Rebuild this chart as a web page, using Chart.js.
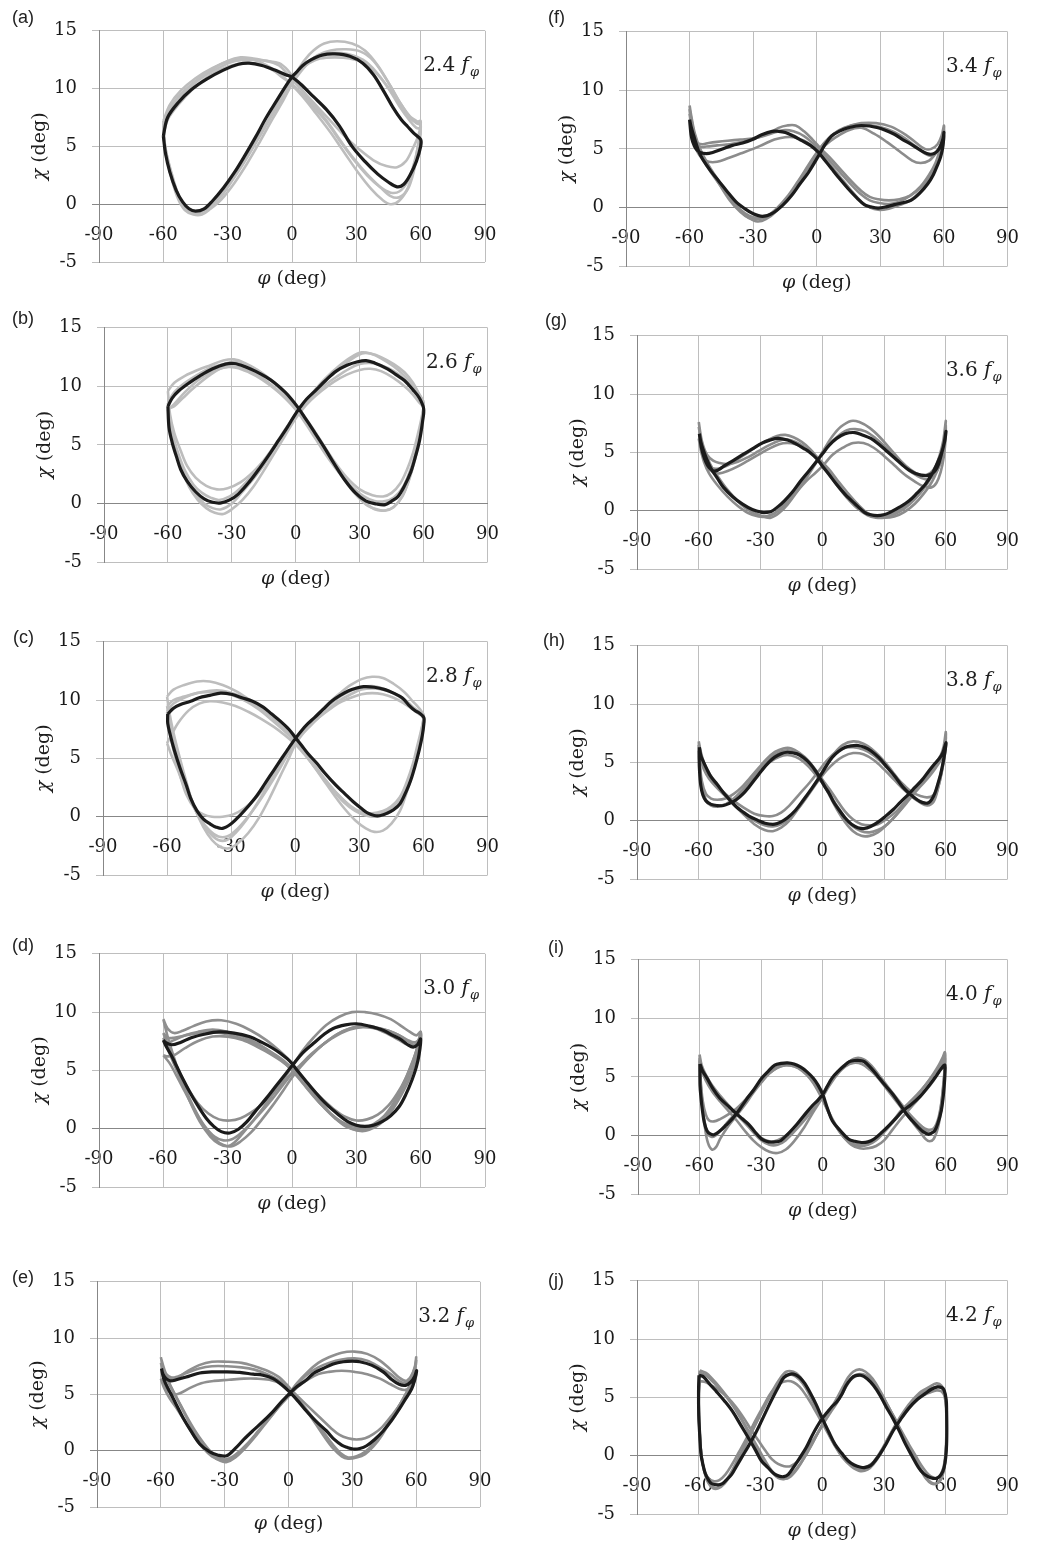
<!DOCTYPE html>
<html>
<head>
<meta charset="utf-8">
<script src="https://cdn.jsdelivr.net/npm/chart.js@4.4.1/dist/chart.umd.min.js"></script>
<style>
  body { margin: 0; background: #fff; }
  #page { position: relative; width: 1039px; height: 1546px; overflow: hidden; }
  #page canvas { position: absolute; }
  .tag { position: absolute; font: 18px "Liberation Sans", Arial, sans-serif; line-height: 18px; color: #222; }
</style>
</head>
<body>
<div id="page"></div>
<script>
// each curve: flat list x0,y0,x1,y1,... (phi deg, chi deg), one closed loop

// (a) 2.4 f
const aBlack = [-60,5.9, -58,7.5, -53,8.8, -47,9.9, -40,10.8, -32,11.6, -25,12.1, -20,12.2, -14,12.0, -8,11.6, -3,11.2, 0,11.0, 4,10.4, 10,9.3, 16,8.2, 22,6.8, 28,5.0, 34,3.7, 40,2.6, 45,1.9, 49,1.5, 52,1.7, 55,2.5, 58,3.7, 60,5.0, 60,5.6,
  57,6.1, 54,6.7, 51,7.3, 47,8.4, 43,9.7, 38,11.2, 33,12.2, 27,12.8, 20,13.0, 14,12.9, 9,12.5, 5,12.0, 2,11.4, 0,11.0, -3,10.2, -7,9.0, -12,7.5, -17,5.8, -22,4.2, -27,2.7, -32,1.4, -37,0.3, -41,-0.4, -45,-0.6, -48,-0.4, -51,0.2, -54,1.2, -57,2.8, -59,4.4, -60,5.9];
const aGrey1 = [-60,6.8, -58,8.0, -53,9.3, -46,10.5, -38,11.6, -30,12.4, -24,12.7, -18,12.6, -12,12.4, -6,12.2, -2,11.6, 1,10.8, 5,9.8, 11,8.4, 17,7.0, 23,5.4, 29,3.9, 35,2.6, 41,1.5, 46,0.7, 50,0.6, 54,1.3, 57,3.0, 59,5.0, 60,7.0,
  58,7.2, 55,7.6, 51,8.6, 46,10.2, 40,12.0, 34,13.3, 28,13.9, 21,14.1, 15,13.9, 10,13.3, 6,12.5, 2,11.4, -1,10.5, -5,9.2, -10,7.6, -16,5.6, -22,3.7, -28,2.0, -33,0.7, -38,-0.2, -42,-0.7, -46,-0.8, -50,-0.3, -53,0.8, -56,2.6, -59,4.8, -60,6.8];
const aGrey2 = [-60,6.3, -58,7.8, -53,9.0, -47,10.2, -40,11.2, -33,11.9, -26,12.4, -19,12.5, -12,12.4, -6,12.0, -1,11.0, 4,10.0, 10,8.8, 17,7.4, 24,6.0, 31,4.8, 38,3.8, 44,3.3, 49,3.2, 53,3.7, 56,4.7, 59,6.0, 60,7.2,
  58,7.1, 55,7.5, 51,8.4, 46,9.8, 40,11.2, 34,12.2, 27,12.6, 20,12.7, 13,12.6, 8,12.2, 4,11.6, 1,10.7, -3,9.6, -8,8.1, -14,6.2, -20,4.4, -26,2.7, -32,1.2, -37,0.1, -42,-0.5, -46,-0.6, -50,-0.2, -53,0.7, -56,2.3, -59,4.5, -60,6.3];
const aGrey3 = [-60,7.2, -57,8.6, -52,9.8, -45,10.9, -37,11.8, -29,12.4, -22,12.6, -15,12.3, -9,11.7, -4,11.0, 0,10.3, 5,9.3, 11,7.9, 18,6.2, 25,4.3, 31,2.7, 37,1.3, 42,0.4, 46,0.0, 50,0.3, 54,1.4, 57,3.3, 59,5.4, 60,6.8,
  58,7.0, 55,7.5, 50,8.9, 44,10.8, 38,12.4, 32,13.2, 25,13.4, 18,13.3, 12,12.9, 7,12.1, 3,11.2, 0,10.4, -4,9.0, -9,7.4, -15,5.4, -21,3.5, -27,1.8, -33,0.4, -38,-0.4, -42,-0.9, -46,-0.9, -50,-0.5, -53,0.4, -56,2.1, -59,4.6, -60,7.2];
const aGrey4 = [-60,6.0, -58,7.3, -53,8.6, -46,10.0, -38,11.2, -30,11.9, -22,12.2, -15,12.1, -9,11.6, -4,10.9, 0,10.4, 5,9.5, 11,8.2, 17,6.9, 23,5.3, 29,3.8, 35,2.5, 41,1.5, 46,1.0, 50,1.1, 54,2.0, 57,3.6, 59,5.2, 60,6.5,
  58,6.6, 55,7.2, 50,8.5, 45,10.0, 39,11.5, 33,12.5, 26,13.0, 19,13.1, 13,12.9, 8,12.4, 4,11.7, 0,10.6, -4,9.4, -9,7.9, -15,6.0, -21,4.1, -27,2.4, -33,0.9, -38,-0.1, -42,-0.6, -46,-0.7, -49,-0.4, -52,0.4, -55,1.8, -58,3.9, -60,6.0];

// (b) 2.6 f
const bBlack = [-60,8.3, -58,9.0, -55,9.6, -50,10.3, -45,10.9, -39,11.5, -33,11.9, -29,11.95, -24,11.7, -19,11.3, -14,10.8, -10,10.3, -5,9.5, -2,8.9, 1,8.2, 4,7.4, 8,6.3, 13,4.9, 18,3.4, 23,2.0, 28,0.9, 33,0.2, 38,-0.05, 42,-0.1, 45,0.2, 48,0.6, 51,1.5, 54,2.7, 56,3.9, 58,5.3, 59.5,7.0, 60,8.1,
  58,9.0, 55,9.7, 51,10.5, 47,11.0, 43,11.5, 37,12.0, 33,12.2, 29,12.1, 24,11.8, 19,11.3, 14,10.5, 9,9.6, 5,8.9, 2,8.2, -1,7.4, -4,6.5, -8,5.4, -12,4.3, -17,3.0, -22,1.8, -27,0.8, -31,0.3, -35,0.05, -39,0.1, -43,0.4, -47,1.0, -51,1.9, -54,2.9, -56,4.0, -58,5.2, -59.5,6.5, -60,8.3];
const bGrey1 = [-60,9.6, -57,10.3, -52,10.9, -46,11.4, -40,11.8, -34,12.2, -29,12.3, -24,12.0, -18,11.4, -12,10.6, -6,9.6, -1,8.6, 3,7.7, 8,6.4, 13,5.0, 18,3.6, 24,2.2, 30,1.2, 36,0.7, 41,0.6, 45,0.9, 49,1.7, 52,2.8, 55,4.3, 57,5.7, 59,7.3, 60,8.6,
  58,9.3, 55,10.1, 51,10.9, 46,11.7, 40,12.4, 35,12.8, 31,12.9, 26,12.5, 20,11.7, 14,10.7, 9,9.7, 4,8.6, 0,7.6, -4,6.5, -9,5.1, -14,3.9, -20,2.7, -26,1.8, -32,1.3, -37,1.2, -42,1.5, -47,2.2, -51,3.2, -54,4.5, -57,6.0, -59,7.6, -60,9.6];
const bGrey2 = [-60,8.0, -57,8.5, -52,9.5, -46,10.5, -40,11.2, -34,11.6, -29,11.7, -24,11.5, -18,11.0, -12,10.2, -6,9.2, -1,8.3, 3,7.5, 8,6.2, 14,4.6, 20,2.9, 26,1.4, 32,0.2, 37,-0.5, 42,-0.6, 46,-0.3, 50,0.6, 53,1.9, 56,3.8, 58,5.6, 59.5,7.2, 60,8.2,
  58,8.6, 55,9.3, 51,10.0, 46,10.7, 40,11.3, 35,11.5, 30,11.4, 24,11.0, 18,10.4, 12,9.6, 7,8.8, 3,8.0, -1,7.0, -5,5.8, -10,4.3, -15,2.8, -20,1.4, -25,0.3, -30,-0.5, -34,-0.9, -38,-0.8, -42,-0.4, -46,0.3, -50,1.4, -53,2.7, -56,4.4, -58,6.0, -60,8.0];
const bGrey3 = [-60,8.6, -57,9.5, -52,10.3, -46,11.0, -40,11.6, -34,11.9, -29,12.1, -23,11.8, -17,11.2, -11,10.4, -5,9.3, 0,8.2, 4,7.2, 9,5.8, 15,4.1, 21,2.5, 27,1.0, 33,-0.1, 38,-0.5, 42,-0.6, 46,-0.3, 50,0.6, 53,2.0, 56,4.0, 58,5.8, 59.5,7.6, 60,8.6,
  58,9.3, 55,10.3, 51,11.2, 46,11.9, 40,12.5, 35,12.8, 31,12.8, 26,12.3, 20,11.5, 14,10.5, 9,9.6, 5,8.8, 1,7.9, -3,6.8, -8,5.3, -13,3.8, -19,2.3, -25,1.0, -30,0.0, -35,-0.5, -39,-0.4, -43,0.0, -47,0.8, -51,2.0, -54,3.4, -57,5.2, -59,6.9, -60,8.6];
const bGrey4 = [-60,8.1, -57,8.3, -53,9.0, -47,10.0, -40,11.0, -34,11.6, -28,11.6, -22,11.2, -16,10.6, -10,9.8, -5,9.0, 0,8.0, 4,7.0, 9,5.6, 14,4.2, 20,2.7, 26,1.5, 32,0.6, 37,0.2, 42,0.2, 46,0.5, 50,1.3, 53,2.5, 56,4.2, 58,5.9, 59.5,7.5, 60,8.4,
  58,9.1, 55,9.8, 51,10.6, 46,11.3, 40,11.8, 35,12.0, 30,11.9, 25,11.5, 19,10.8, 13,10.0, 8,9.1, 4,8.4, 0,7.6, -4,6.6, -9,5.2, -14,3.9, -20,2.5, -26,1.3, -31,0.6, -36,0.3, -40,0.5, -44,0.9, -48,1.6, -52,2.8, -55,4.2, -58,6.0, -60,8.1];

// (c) 2.8 f
const cBlack = [-59.7,8.8, -57,9.3, -54,9.6, -49,9.9, -45,10.2, -40,10.4, -35,10.6, -30,10.5, -25,10.2, -20,9.9, -15,9.4, -11,8.8, -7,8.2, -3,7.5, 0,6.8, 3,6.1, 6,5.4, 10,4.6, 14,3.7, 19,2.7, 23,2.0, 27,1.3, 31,0.7, 34,0.3, 37,0.1, 40,0.1, 43,0.3, 46,0.6, 49,1.1, 52,2.2, 54,3.1, 56,4.3, 58,5.7, 59.5,7.0, 60.2,8.0, 60.2,8.5,
  58,8.9, 56,9.1, 53,9.6, 50,10.2, 46,10.6, 42,10.9, 37,11.1, 32,11.15, 28,11.0, 25,10.8, 21,10.4, 17,9.9, 13,9.2, 9,8.5, 6,8.0, 3,7.4, 0,6.7, -3,5.9, -6,5.1, -10,4.0, -14,2.9, -18,1.8, -22,0.9, -26,0.1, -30,-0.6, -34,-1.0, -37,-0.9, -40,-0.6, -43,-0.2, -46,0.5, -49,1.6, -51,2.7, -54,4.2, -56.6,5.7, -58.5,7.0, -59.7,8.0, -59.7,8.8];
const cGrey1 = [-60,10.3, -57,10.9, -52,11.3, -46,11.6, -40,11.6, -34,11.3, -28,10.8, -22,10.1, -16,9.3, -10,8.4, -5,7.5, -1,6.7, 3,5.8, 8,4.5, 13,3.2, 18,1.9, 23,0.7, 28,-0.3, 33,-1.0, 37,-1.3, 41,-1.2, 45,-0.6, 49,0.5, 52,2.0, 55,3.8, 57,5.5, 59,7.3, 60,8.8,
  58,9.0, 55,9.4, 51,10.0, 46,10.6, 41,11.0, 36,11.2, 31,11.1, 26,10.8, 21,10.3, 16,9.6, 11,8.8, 7,8.0, 3,7.2, 0,6.5, -4,5.4, -8,4.1, -13,2.6, -18,1.1, -23,-0.3, -28,-1.4, -32,-2.0, -36,-2.0, -40,-1.4, -44,-0.4, -48,1.2, -51,3.0, -54,5.0, -57,7.2, -59,9.0, -60,10.3];
const cGrey2 = [-60,6.3, -58,7.0, -55,8.0, -50,9.1, -45,9.7, -40,9.9, -34,9.8, -28,9.5, -22,9.0, -16,8.4, -10,7.7, -5,7.0, 0,6.2, 4,5.4, 9,4.3, 14,3.2, 19,2.1, 24,1.2, 29,0.5, 34,0.2, 39,0.2, 44,0.6, 48,1.3, 52,2.7, 55,4.2, 57,5.7, 59,7.2, 60,8.7,
  58,9.3, 55,9.9, 51,10.7, 46,11.4, 41,11.9, 36,12.0, 31,11.8, 26,11.3, 21,10.6, 16,9.8, 11,8.9, 7,8.1, 3,7.2, 0,6.4, -4,5.2, -8,3.9, -13,2.4, -18,1.0, -23,-0.2, -28,-1.2, -32,-1.7, -36,-1.7, -40,-1.2, -44,-0.3, -48,1.0, -52,2.6, -55,4.0, -58,5.3, -60,6.3];
const cGrey3 = [-60,9.5, -57,10.0, -52,10.3, -46,10.6, -40,10.7, -35,10.7, -29,10.4, -23,9.9, -17,9.2, -11,8.3, -6,7.5, -2,6.8, 2,6.0, 6,5.0, 11,3.8, 16,2.7, 21,1.7, 26,0.9, 31,0.4, 36,0.3, 41,0.5, 45,0.9, 49,1.7, 52,2.9, 55,4.5, 57,6.0, 59,7.5, 60,8.6,
  58,8.8, 55,9.2, 51,9.7, 46,10.2, 41,10.5, 36,10.6, 31,10.5, 26,10.2, 21,9.8, 16,9.2, 11,8.5, 7,7.8, 3,7.0, 0,6.2, -3,5.0, -7,3.5, -12,1.6, -17,-0.1, -22,-1.4, -27,-2.3, -31,-2.7, -35,-2.6, -39,-2.0, -43,-0.9, -47,0.7, -51,2.8, -54,4.7, -57,6.8, -59,8.3, -60,9.5];
const cGrey4 = [-60,9.0, -57,9.7, -52,10.2, -46,10.6, -40,10.8, -34,10.8, -28,10.5, -22,10.0, -16,9.3, -10,8.5, -5,7.7, -1,6.9, 3,6.0, 8,4.7, 13,3.4, 18,2.2, 23,1.2, 28,0.5, 33,0.1, 38,0.0, 42,0.2, 46,0.6, 49,1.3, 52,2.5, 55,4.0, 57,5.4, 59,7.0, 60,8.4,
  58,8.9, 55,9.4, 51,10.1, 46,10.6, 41,10.9, 36,11.0, 31,10.9, 26,10.5, 21,10.0, 16,9.3, 11,8.5, 7,7.8, 3,7.1, 0,6.4, -4,5.3, -9,3.9, -14,2.6, -19,1.5, -24,0.7, -29,0.2, -34,0.0, -39,0.0, -43,0.2, -47,0.7, -51,1.9, -54,3.6, -57,5.7, -59,7.5, -60,9.0];

// (d) 3.0 f
const dBlack = [-60,7.6, -58.5,7.0, -56,6.2, -53.9,5.4, -51,4.3, -47.7,3.15, -44,2.0, -40,0.9, -36.5,0.2, -33,-0.25, -29,-0.37, -25,-0.05, -21,0.6, -16.6,1.6, -12,2.6, -7.3,3.7, -3,4.7, 0.5,5.5, 5,6.5, 9.9,7.3, 15,8.1, 19.2,8.6, 25,8.9, 30,9.0, 36,8.8, 42.5,8.45, 47,8.0, 50.3,7.7, 54,7.2, 56.5,7.0, 58.5,7.2, 60,7.7,
  59.3,6.4, 58,5.3, 56,4.2, 53,2.9, 50,1.9, 46,1.1, 42,0.6, 38,0.3, 34,0.2, 30,0.3, 26,0.6, 21,1.3, 16,2.1, 11,3.1, 6,4.2, 2,5.1, -1,5.8, -5,6.4, -9,6.9, -14,7.4, -20,7.9, -27,8.2, -34,8.3, -41,8.1, -47,7.8, -52,7.4, -56,7.2, -59,7.4, -60,7.6];
const dGrey1 = [-60,9.4, -58,8.6, -55,8.2, -51,8.4, -46,8.8, -40,9.2, -33,9.3, -26,9.0, -19,8.4, -12,7.6, -6,6.7, -1,5.8, 3,4.8, 8,3.6, 13,2.4, 18,1.3, 23,0.5, 28,0.0, 32,-0.2, 36,-0.1, 41,0.4, 46,1.4, 51,2.9, 55,4.4, 58,6.0, 60,7.5,
  60,8.3, 58,8.0, 55,8.3, 51,8.8, 46,9.4, 40,9.8, 34,10.0, 28,10.0, 22,9.6, 16,8.9, 10,7.8, 5,6.7, 1,5.6, -3,4.5, -8,3.2, -13,1.9, -18,0.7, -23,-0.4, -27,-1.2, -30,-1.5, -34,-1.3, -38,-0.7, -43,0.6, -48,2.5, -52,4.4, -55,6.1, -58,7.9, -60,9.4];
const dGrey2 = [-60,6.3, -58,6.2, -55,6.3, -50,6.9, -44,7.5, -37,7.9, -30,7.9, -23,7.6, -16,7.0, -10,6.4, -5,5.8, -1,5.2, 3,4.4, 8,3.3, 13,2.2, 18,1.3, 23,0.6, 28,0.2, 33,0.1, 38,0.4, 43,1.1, 48,2.4, 52,3.9, 55,5.2, 58,6.7, 60,8.3,
  59,7.6, 57,7.2, 54,7.5, 50,8.0, 45,8.4, 39,8.7, 33,8.8, 27,8.6, 21,8.1, 15,7.3, 9,6.3, 4,5.4, 0,4.7, -4,3.8, -9,2.6, -14,1.5, -19,0.5, -24,-0.4, -28,-0.9, -32,-1.0, -36,-0.7, -41,0.3, -46,1.8, -50,3.2, -54,4.6, -57,5.6, -60,6.3];
const dGrey3 = [-60,8.2, -58,7.8, -55,7.8, -50,8.0, -44,8.2, -37,8.3, -30,8.1, -23,7.7, -16,7.2, -10,6.6, -5,6.0, 0,5.2, 5,4.3, 10,3.3, 15,2.4, 20,1.6, 25,1.0, 30,0.7, 35,0.8, 40,1.2, 45,2.0, 49,3.0, 53,4.3, 56,5.6, 58,6.7, 60,8.0,
  59,7.6, 57,7.4, 54,7.6, 50,8.0, 45,8.4, 39,8.6, 33,8.7, 27,8.5, 21,8.0, 15,7.3, 9,6.4, 4,5.5, 0,4.8, -4,4.0, -9,3.0, -14,2.1, -19,1.4, -24,0.9, -29,0.7, -34,0.8, -39,1.3, -44,2.2, -49,3.6, -53,5.0, -56,6.2, -58,7.2, -60,8.2];
const dGrey4 = [-60,7.8, -58,7.4, -55,7.6, -50,8.0, -44,8.3, -37,8.5, -30,8.3, -23,7.9, -16,7.3, -10,6.6, -5,5.9, 0,5.0, 5,3.9, 10,2.8, 15,1.8, 20,0.9, 25,0.2, 30,-0.1, 35,0.0, 40,0.5, 45,1.4, 49,2.6, 53,4.0, 56,5.4, 58,6.6, 60,8.2,
  59,7.5, 57,7.1, 54,7.2, 50,7.6, 45,8.1, 39,8.6, 33,8.8, 27,8.6, 21,8.1, 15,7.3, 9,6.3, 4,5.3, 0,4.4, -4,3.3, -9,2.0, -14,0.8, -19,-0.3, -24,-1.1, -28,-1.5, -32,-1.4, -36,-0.9, -41,0.2, -46,1.9, -50,3.5, -54,5.1, -57,6.4, -60,7.8];

// (e) 3.2 f
const eBlack = [-59.7,7.3, -58.5,6.3, -56,5.3, -53,4.2, -49.5,2.9, -46,1.8, -41.7,0.6, -37,-0.1, -33,-0.4, -29,-0.45, -25,0.2, -21,1.0, -16.6,1.8, -12,2.6, -7.2,3.5, -3,4.4, 0.6,5.1, 4,5.7, 8.5,6.3, 12,6.9, 16.3,7.3, 21,7.7, 25.7,7.9, 30,7.95, 33.5,7.9, 39,7.6, 44.5,7.0, 48,6.4, 52,5.9, 55,5.8, 57.5,6.1, 59.3,6.6, 60.2,7.1,
  59.3,6.3, 57.9,5.5, 55,4.6, 52.4,3.8, 48.5,2.7, 44.5,1.75, 40.5,1.0, 36.7,0.44, 33.5,0.2, 30.4,0.15, 27.5,0.3, 25,0.5, 21.5,1.0, 17.9,1.75, 13,2.6, 8.5,3.5, 4.5,4.4, 0.6,5.2, -3.5,5.9, -7.2,6.4, -12,6.7, -16.6,6.8, -23,6.95, -29.2,7.0, -35,7.0, -41.7,6.9, -47,6.6, -52.7,6.3, -55.5,6.2, -57.5,6.4, -59,6.8, -59.7,7.3];
const eGrey1 = [-60,8.3, -58.5,7.3, -56,6.0, -52,4.5, -48,3.0, -44,1.6, -40,0.5, -36,-0.4, -32,-0.9, -29,-1.0, -25,-0.6, -20,0.3, -15,1.4, -10,2.6, -5,3.8, 0,5.0, 4,6.0, 9,7.0, 14,7.8, 19,8.3, 25,8.7, 31,8.8, 37,8.6, 43,8.0, 48,7.2, 52,6.5, 55,6.2, 57.5,6.6, 59.3,7.4, 60,8.3,
  59.3,7.0, 57.5,6.0, 55,5.0, 52,4.0, 48,2.8, 44,1.6, 40,0.6, 36,-0.1, 32,-0.5, 28,-0.6, 25,-0.3, 21,0.5, 17,1.5, 12,2.8, 7,4.0, 3,5.0, -1,5.9, -5,6.6, -10,7.1, -16,7.5, -22,7.8, -29,7.9, -36,7.9, -42,7.6, -48,7.0, -52,6.5, -55,6.4, -57.5,6.8, -59,7.6, -60,8.3];
const eGrey2 = [-60,6.4, -58.5,5.6, -56,4.7, -52,3.6, -48,2.4, -44,1.2, -40,0.2, -36,-0.5, -32,-0.8, -28,-0.7, -24,-0.2, -19,0.7, -14,1.8, -9,2.9, -4,4.0, 0,4.8, 4,5.6, 9,6.3, 14,6.8, 19,7.0, 25,7.1, 31,7.0, 37,6.8, 43,6.4, 48,5.9, 52,5.5, 55,5.4, 57.5,5.7, 59.3,6.2, 60,6.8,
  59.3,6.3, 57.5,5.5, 55,4.8, 52,4.0, 48,3.0, 44,2.1, 40,1.5, 36,1.1, 32,1.0, 28,1.1, 24,1.4, 20,2.0, 15,2.9, 10,3.8, 5,4.7, 1,5.4, -4,6.0, -9,6.3, -15,6.4, -21,6.4, -28,6.3, -35,6.2, -41,6.0, -46,5.6, -51,5.1, -54,5.0, -57,5.4, -59,6.0, -60,6.4];
const eGrey3 = [-60,7.8, -58.5,6.9, -56,5.9, -52,4.5, -48,3.1, -44,1.8, -40,0.7, -36,-0.2, -32,-0.7, -28,-0.8, -24,-0.4, -20,0.4, -15,1.5, -10,2.7, -5,3.9, 0,5.0, 4,5.9, 9,6.8, 14,7.4, 19,7.8, 25,8.1, 31,8.2, 37,8.0, 43,7.4, 48,6.8, 52,6.2, 55,6.0, 57.5,6.5, 59.3,7.3, 60,8.0,
  59.3,7.1, 57.5,6.0, 55,5.0, 52,4.0, 48,2.7, 44,1.4, 40,0.4, 36,-0.3, 32,-0.6, 28,-0.7, 25,-0.5, 21,0.2, 17,1.2, 12,2.6, 7,3.9, 3,4.9, -1,5.7, -5,6.3, -10,6.8, -16,7.2, -22,7.4, -29,7.5, -36,7.5, -42,7.3, -48,6.9, -52,6.6, -55,6.5, -57.5,6.8, -59,7.3, -60,7.8];

// (f) 3.4 f
const fBlack = [-60,7.5, -59.3,6.9, -58,6.1, -57,5.5, -55.5,4.7, -53.8,4.1, -50,3.1, -46,2.2, -42,1.3, -38.2,0.5, -34,-0.1, -30.4,-0.5, -25.7,-0.76, -21,-0.5, -16,0.2, -11.7,1.06, -8,2.0, -3.9,3.0, 0.8,4.4, 4,5.4, 7,6.1, 10.5,6.5, 14.8,6.8, 21,7.0, 28.9,6.8, 36.6,6.25, 40.5,5.8, 44.4,5.4, 50.7,4.7, 53,4.55, 55.4,4.6, 57.3,4.9, 58.5,5.3, 59.6,5.9, 60,6.4,
  59.5,5.2, 58.4,4.3, 56.9,3.6, 55,2.8, 52.3,2.0, 48.5,1.2, 44.4,0.6, 40.5,0.4, 36.6,0.24, 32.7,0.05, 28.9,-0.05, 25.5,0.05, 22.6,0.22, 19,0.8, 14.8,1.6, 11,2.4, 7,3.3, 3.5,4.1, 0.8,4.7, -3,5.3, -7,5.7, -11,6.1, -14.8,6.4, -18,6.5, -21,6.5, -26,6.2, -30.4,5.8, -35,5.5, -39.8,5.3, -44.5,5.0, -49.1,4.7, -52.2,4.6, -55,4.7, -57,5.0, -58.5,5.6, -59.3,6.2, -60,7.5];
const fGrey1 = [-60,8.7, -59,7.6, -57.5,6.3, -55,5.0, -51,3.6, -46,2.2, -41,0.8, -36,-0.3, -32,-0.9, -28,-1.2, -24,-1.0, -19,-0.3, -14,0.8, -9,2.1, -4,3.5, 0,4.6, 4,5.6, 8,6.3, 13,6.8, 19,7.1, 26,7.0, 33,6.7, 40,6.1, 46,5.3, 51,4.6, 54,4.4, 57,4.8, 59,5.6, 60,6.6,
  59.5,5.7, 58,4.6, 56,3.6, 53,2.6, 49,1.7, 44,1.0, 39,0.7, 34,0.6, 29,0.7, 25,0.9, 21,1.4, 16,2.3, 11,3.3, 6,4.3, 2,5.0, -2,5.8, -6,6.5, -10,7.0, -14,7.0, -18,6.8, -23,6.3, -29,5.9, -35,5.6, -41,5.4, -47,5.3, -52,5.2, -55,5.2, -57.5,5.7, -59,6.8, -60,8.7];
const fGrey2 = [-60,8.0, -59,7.0, -57.5,5.8, -55,4.6, -51,3.3, -46,2.0, -41,0.8, -36,-0.2, -32,-0.7, -28,-0.9, -24,-0.8, -19,-0.2, -14,0.8, -9,2.0, -4,3.4, 0,4.4, 4,5.3, 9,6.0, 15,6.6, 21,6.8, 27,6.3, 33,5.6, 39,4.8, 45,4.0, 49,3.8, 53,4.0, 56,4.6, 58.5,5.4, 60,6.2,
  59.5,5.3, 58,4.3, 56,3.4, 53,2.4, 49,1.4, 44,0.6, 39,0.2, 34,-0.1, 29,-0.2, 25,0.0, 21,0.5, 16,1.5, 11,2.6, 6,3.7, 2,4.5, -2,5.2, -6,5.7, -11,6.0, -15,6.0, -20,5.8, -25,5.4, -30,5.0, -36,4.6, -42,4.2, -47,3.9, -51,3.9, -54,4.2, -56.5,4.8, -58.5,6.0, -60,8.0];
const fGrey3 = [-60,8.4, -59,7.4, -57.5,6.1, -55,4.9, -51,3.5, -46,2.0, -41,0.6, -36,-0.4, -32,-0.9, -28,-1.0, -24,-0.8, -19,-0.1, -14,0.9, -9,2.2, -4,3.6, 0,4.7, 4,5.6, 9,6.4, 15,6.9, 21,7.2, 28,7.2, 35,6.9, 42,6.2, 47,5.5, 51,5.0, 54,5.0, 57,5.4, 59,6.2, 60,7.0,
  59.5,6.0, 58,4.9, 56,3.8, 53,2.8, 49,1.8, 44,1.0, 39,0.5, 34,0.3, 29,0.4, 25,0.6, 21,1.1, 16,2.0, 11,3.0, 6,4.0, 2,4.8, -2,5.5, -6,6.1, -11,6.5, -15,6.6, -20,6.4, -25,6.1, -30,5.9, -36,5.8, -42,5.7, -47,5.6, -51,5.5, -54,5.4, -57,5.6, -59,6.8, -60,8.4];

// (g) 3.6 f
const gBlack = [-59.7,6.6, -59,5.9, -58.1,5.35, -56.3,4.5, -54.2,3.65, -51,2.8, -48,2.0, -43.5,1.2, -38.7,0.56, -34,0.1, -29.3,-0.14, -27,-0.15, -24.7,-0.06, -21.5,0.35, -18.4,0.85, -14.5,1.6, -10.7,2.5, -7,3.3, -2.9,4.2, 0.2,4.9, 3.3,5.6, 7,6.2, 11.1,6.6, 15.8,6.7, 19.5,6.5, 23.6,6.2, 27.5,5.7, 31.4,5.1, 35.3,4.5, 39.1,3.9, 42,3.5, 45.3,3.2, 50,3.0, 52.5,3.1, 54.7,3.4, 56.5,4.0, 57.8,4.8, 59.2,5.8, 60.1,6.8,
  59.4,5.9, 58,5.0, 56.2,4.2, 53.5,3.2, 50,2.25, 46,1.5, 42.2,0.85, 37.5,0.3, 32.9,-0.14, 29.8,-0.35, 26.7,-0.42, 23.5,-0.35, 20.5,-0.14, 15.8,0.6, 11.1,1.4, 7.2,2.2, 3.3,3.1, 0.2,3.8, -2.9,4.5, -6,5.0, -9.1,5.35, -13,5.75, -16.9,6.06, -21.6,6.2, -25.5,6.05, -29.3,5.8, -34,5.3, -38.7,4.8, -43.3,4.3, -48,3.8, -50.5,3.5, -52.7,3.4, -55,3.7, -56.6,4.2, -58,4.9, -58.9,5.6, -59.7,6.6];
const gGrey1 = [-60,7.6, -59.2,6.6, -58,5.6, -56,4.6, -53,3.5, -49,2.4, -44,1.3, -39,0.5, -34,-0.1, -29,-0.5, -25,-0.6, -21,-0.2, -17,0.5, -12,1.7, -7,3.0, -3,4.1, 1,5.3, 5,6.4, 9,7.2, 14,7.7, 18,7.6, 23,7.1, 28,6.3, 33,5.3, 38,4.3, 43,3.5, 47,3.1, 51,3.1, 54,3.5, 56.5,4.4, 58.5,5.7, 60,7.7,
  59.4,6.6, 58,5.4, 56,4.2, 53,3.0, 49,1.9, 45,1.0, 40,0.2, 35,-0.3, 30,-0.6, 26,-0.6, 22,-0.4, 17,0.2, 12,1.1, 7,2.2, 3,3.2, -1,4.1, -5,4.9, -9,5.5, -13,5.9, -17,6.1, -21,6.0, -26,5.6, -31,5.1, -36,4.6, -41,4.2, -46,4.0, -50,4.1, -53,4.3, -56,4.8, -58.5,6.0, -60,7.6];
const gGrey2 = [-60,6.2, -59,5.2, -57.5,4.2, -55,3.2, -51,2.2, -46,1.2, -41,0.4, -36,-0.2, -31,-0.5, -27,-0.5, -23,-0.2, -18,0.5, -13,1.5, -8,2.5, -3,3.3, 1,4.0, 5,4.8, 10,5.4, 15,5.8, 20,5.8, 25,5.4, 30,4.7, 35,3.9, 40,3.1, 45,2.5, 49,2.1, 53,2.0, 55.5,2.4, 57.5,3.3, 59,4.6, 60,6.4,
  59.3,5.5, 58,4.5, 56,3.5, 53,2.4, 49,1.4, 45,0.6, 40,-0.1, 35,-0.5, 30,-0.6, 26,-0.5, 22,-0.2, 17,0.6, 12,1.6, 7,2.7, 3,3.6, -1,4.3, -5,4.9, -9,5.4, -13,5.7, -17,5.8, -21,5.7, -26,5.3, -31,4.8, -36,4.3, -41,3.8, -46,3.4, -50,3.2, -53,3.3, -56,3.8, -58.5,4.8, -60,6.2];
const gGrey3 = [-60,7.2, -59,6.2, -57.5,5.2, -55,4.1, -51,3.0, -47,2.0, -42,1.0, -37,0.2, -32,-0.3, -28,-0.5, -24,-0.3, -20,0.3, -15,1.3, -10,2.5, -5,3.7, -1,4.7, 3,5.6, 7,6.3, 12,6.9, 16,7.0, 21,6.8, 26,6.2, 31,5.4, 36,4.5, 41,3.6, 46,3.0, 50,2.7, 53,2.8, 56,3.5, 58,4.6, 59.4,5.8, 60,7.3,
  59.3,6.2, 57.8,5.0, 55.5,3.9, 52,2.6, 48,1.6, 43,0.7, 38,0.1, 33,-0.3, 29,-0.5, 25,-0.5, 21,-0.2, 16,0.5, 11,1.5, 6,2.7, 2,3.7, -2,4.5, -6,5.3, -10,5.9, -14,6.3, -18,6.5, -22,6.4, -27,6.0, -32,5.5, -37,4.9, -42,4.3, -47,3.8, -51,3.6, -54,3.7, -56.5,4.3, -58.5,5.5, -60,7.2];

// (h) 3.8 f
const hBlack = [-59.7,6.3, -59,5.6, -58.1,5.2, -56,4.4, -54.2,3.8, -51,3.1, -48,2.4, -45,1.8, -41.8,1.2, -38.5,0.75, -35.6,0.4, -31.5,0.05, -27.8,-0.22, -23.1,-0.3, -20,-0.1, -16.9,0.25, -13,0.9, -9.1,1.8, -5,2.8, -1.3,3.76, 2,4.7, 4.9,5.45, 8,5.95, 11.1,6.3, 14,6.42, 17.4,6.45, 20.5,6.3, 23.6,6.0, 27.5,5.4, 31.4,4.6, 35.3,3.8, 39.1,2.9, 42.2,2.35, 45.3,1.9, 47.5,1.65, 50,1.5, 51.7,1.55, 53.1,1.8, 54.8,2.4, 56.2,3.2, 57.5,4.0, 58.6,4.9, 59.5,5.8, 60.1,6.7,
  58.5,5.8, 56.7,5.3, 54.7,4.9, 51.5,4.2, 48.5,3.5, 45,2.85, 41.5,2.2, 38,1.6, 34.5,0.96, 30.5,0.35, 26.7,-0.17, 23.5,-0.5, 20.5,-0.67, 17.3,-0.6, 14.2,-0.31, 11,0.25, 8,0.96, 5.5,1.6, 3.3,2.36, 1.3,2.9, -0.55,3.48, -3,4.2, -6,4.9, -9,5.4, -12.2,5.73, -16.9,5.87, -20,5.75, -23.1,5.45, -26,5.0, -29.3,4.33, -32.5,3.6, -35.5,2.92, -38.5,2.3, -41.8,1.8, -45,1.5, -48,1.3, -51,1.3, -54,1.4, -56.5,1.7, -58,2.2, -59,3.0, -59.6,4.2, -59.8,5.3, -59.7,6.3];
const hGrey1 = [-60,6.8, -59,5.9, -57.5,5.0, -55,4.1, -51,3.1, -47,2.2, -43,1.4, -38,0.5, -33,-0.3, -28,-0.8, -24,-0.9, -20,-0.6, -16,0.0, -11,1.2, -6,2.5, -2,3.6, 2,4.8, 6,5.8, 10,6.5, 15,6.8, 20,6.6, 25,6.0, 30,5.1, 35,4.0, 40,2.8, 44,2.0, 48,1.5, 51,1.3, 54,1.6, 56,2.6, 58,4.2, 59.5,6.0, 60,7.6,
  59,6.4, 57.5,5.6, 55,4.9, 52,4.1, 48,3.2, 44,2.3, 40,1.4, 36,0.5, 31,-0.4, 27,-1.0, 23,-1.3, 19,-1.3, 15,-0.9, 11,-0.1, 7,1.0, 4,2.0, 1,3.0, -3,4.0, -7,4.9, -11,5.6, -15,6.0, -19,6.0, -23,5.7, -27,5.1, -31,4.3, -35,3.4, -39,2.6, -43,1.9, -47,1.4, -51,1.2, -54,1.3, -56.5,1.7, -58.5,3.0, -59.5,4.8, -60,6.8];
const hGrey2 = [-60,6.5, -59,5.6, -57.5,4.8, -55,3.9, -51,3.0, -47,2.3, -43,1.7, -38,1.1, -33,0.6, -28,0.4, -24,0.4, -20,0.7, -16,1.3, -11,2.3, -6,3.3, -2,4.2, 2,5.1, 6,5.8, 10,6.2, 15,6.3, 20,6.1, 25,5.6, 30,4.8, 35,3.9, 40,3.0, 44,2.4, 48,2.1, 51,2.0, 54,2.2, 56,3.0, 58,4.4, 59.5,6.0, 60,7.2,
  59,6.1, 57.5,5.4, 55,4.7, 52,4.0, 48,3.2, 44,2.4, 40,1.6, 36,0.8, 31,0.1, 27,-0.3, 23,-0.4, 19,-0.3, 15,0.1, 11,0.8, 7,1.8, 4,2.6, 1,3.3, -3,4.3, -7,5.2, -11,5.8, -15,6.2, -19,6.2, -23,5.9, -27,5.3, -31,4.5, -35,3.7, -39,2.9, -43,2.3, -47,1.9, -51,1.8, -54,1.9, -56.5,2.3, -58.5,3.4, -59.5,5.0, -60,6.5];
const hGrey3 = [-60,6.0, -59,5.2, -57.5,4.4, -55,3.6, -51,2.8, -47,2.1, -43,1.4, -38,0.6, -33,0.0, -28,-0.4, -24,-0.5, -20,-0.3, -16,0.2, -11,1.2, -6,2.4, -2,3.4, 2,4.3, 6,5.0, 10,5.5, 15,5.8, 20,5.7, 25,5.2, 30,4.4, 35,3.5, 40,2.6, 44,2.0, 48,1.6, 51,1.5, 54,1.8, 56,2.7, 58,4.1, 59.5,5.6, 60,6.6,
  59,5.9, 57.5,5.2, 55,4.5, 52,3.8, 48,3.0, 44,2.2, 40,1.3, 36,0.5, 31,-0.4, 27,-0.8, 23,-1.0, 19,-0.9, 15,-0.5, 11,0.3, 7,1.3, 4,2.2, 1,3.0, -3,3.9, -7,4.7, -11,5.3, -15,5.6, -19,5.6, -23,5.3, -27,4.8, -31,4.0, -35,3.2, -39,2.4, -43,1.8, -47,1.4, -51,1.3, -54,1.4, -56.5,1.8, -58.5,3.0, -59.5,4.5, -60,6.0];

// (i) 4.0 f
const iBlack = [-59.8,6.1, -58.5,5.5, -56.4,4.9, -53.5,4.0, -50.2,3.2, -46,2.5, -42.3,1.9, -39,1.4, -36.1,0.95, -33,0.3, -29.8,-0.3, -27.5,-0.5, -25.2,-0.58, -23,-0.55, -20.5,-0.45, -16.5,0.2, -12.6,0.95, -8.7,1.8, -4.8,2.6, -2.4,3.0, 0,3.5, 2.2,4.2, 4.5,4.9, 7.6,5.5, 10.8,6.0, 13,6.3, 15.5,6.4, 18,6.4, 20.2,6.3, 23.3,5.8, 26.4,5.15, 30.3,4.3, 34.2,3.5, 37.4,2.7, 40.5,1.9, 43.6,1.25, 46.7,0.67, 49,0.3, 51.4,0.1, 53,0.2, 54.5,0.4, 56,1.0, 57.7,2.1, 58.6,3.2, 59.2,4.35, 59.5,5.2, 59.5,6.0,
  58.6,5.9, 56.5,5.4, 54.5,4.9, 50.6,4.0, 46.7,3.2, 42.8,2.6, 38.9,2.1, 35.8,1.5, 32.8,0.95, 29,0.3, 25,-0.3, 22,-0.55, 18.8,-0.6, 15.6,-0.5, 12.5,-0.3, 8.6,0.4, 4.7,1.24, 2.3,2.3, 0,3.5, -2.3,4.3, -4.7,4.9, -7.8,5.45, -10.9,5.85, -14,6.1, -17.2,6.2, -20.3,6.15, -23.4,6.0, -26.5,5.5, -29.7,4.9, -33.6,3.9, -37.5,3.0, -40.6,2.2, -43.7,1.5, -47,0.9, -50,0.4, -53,0.06, -55,0.15, -56.4,0.4, -57.7,1.1, -58.6,2.1, -59.3,3.2, -59.8,4.3, -59.8,6.1];
const iGrey1 = [-60,6.9, -59,6.0, -57,5.2, -54,4.3, -50,3.4, -46,2.6, -42,1.8, -38,1.1, -34,0.4, -30,-0.2, -26,-0.5, -22,-0.4, -18,0.0, -13,0.8, -8,1.8, -4,2.7, 0,3.6, 4,4.7, 8,5.6, 12,6.2, 16,6.5, 20,6.3, 24,5.7, 28,4.9, 32,4.0, 36,3.1, 40,2.2, 44,1.4, 48,0.8, 51,0.5, 54,0.6, 56,1.3, 57.5,2.5, 58.5,3.8, 59.3,5.4, 59.5,7.0,
  58.5,6.5, 56.5,5.8, 54,5.2, 50,4.3, 46,3.5, 42,2.8, 38,2.1, 34,1.2, 30,0.4, 26,-0.3, 22,-0.7, 18,-0.8, 14,-0.6, 10,0.0, 6,1.0, 3,2.0, 0,3.2, -3,4.2, -6,5.0, -10,5.6, -14,5.9, -18,6.0, -22,5.8, -26,5.3, -30,4.6, -34,3.8, -38,3.0, -42,2.3, -46,1.8, -50,1.4, -53,1.2, -55.5,1.3, -57,1.8, -58.5,3.0, -59.5,4.8, -60,6.9];
const iGrey2 = [-60,6.6, -59,5.6, -57,4.7, -54,3.8, -50,2.9, -46,2.1, -42,1.3, -38,0.4, -34,-0.4, -30,-1.0, -26,-1.4, -22,-1.5, -18,-1.2, -14,-0.5, -9,0.7, -5,1.9, -1,3.0, 3,4.2, 7,5.2, 11,5.9, 15,6.2, 19,6.1, 23,5.6, 27,4.9, 31,4.0, 35,3.1, 39,2.2, 43,1.3, 47,0.4, 50,-0.3, 52,-0.5, 54,-0.3, 56,0.6, 57.5,2.0, 58.5,3.6, 59.3,5.3, 59.5,6.6,
  58.5,6.1, 56.5,5.4, 54,4.7, 50,3.8, 46,3.0, 42,2.2, 38,1.4, 34,0.5, 30,-0.4, 26,-0.9, 22,-1.1, 18,-1.1, 14,-0.8, 10,-0.1, 6,0.9, 3,1.9, 0,3.0, -3,4.0, -6,4.8, -10,5.5, -14,5.9, -18,6.0, -22,5.8, -26,5.3, -30,4.5, -34,3.6, -38,2.6, -42,1.7, -46,0.8, -50,-0.3, -52,-1.0, -54,-1.2, -56,-0.6, -57.5,0.8, -58.7,2.8, -59.6,4.8, -60,6.6];
const iGrey3 = [-60,6.4, -59,5.7, -57,5.0, -54,4.1, -50,3.3, -46,2.5, -42,1.8, -38,1.1, -34,0.3, -30,-0.4, -26,-0.8, -22,-0.8, -18,-0.4, -13,0.5, -8,1.5, -4,2.4, 0,3.4, 4,4.6, 8,5.5, 12,6.2, 16,6.6, 20,6.5, 24,5.9, 28,5.0, 32,4.1, 36,3.2, 40,2.3, 44,1.5, 48,0.8, 51,0.3, 54,0.3, 56,1.0, 57.5,2.4, 58.5,4.0, 59.3,5.6, 59.5,7.1,
  58.5,6.7, 56.5,6.0, 54,5.3, 50,4.3, 46,3.4, 42,2.6, 38,1.9, 34,1.1, 30,0.3, 26,-0.4, 22,-0.8, 18,-0.9, 14,-0.7, 10,-0.1, 6,0.9, 3,1.9, 0,3.1, -3,4.1, -6,4.9, -10,5.6, -14,6.0, -18,6.1, -22,5.9, -26,5.4, -30,4.7, -34,3.8, -38,2.9, -42,2.0, -46,1.2, -50,0.4, -53,-0.1, -55.5,0.0, -57,0.7, -58.5,2.3, -59.5,4.3, -60,6.4];

// (j) 4.2 f
const jBlack = [-59.9,6.9, -60.1,5.5, -60,3.5, -59.6,2.0, -58.9,0.1, -57.8,-0.9, -56.8,-1.55, -55.2,-2.1, -53.7,-2.4, -50.6,-2.5, -48.5,-2.4, -46.7,-2.1, -44,-1.6, -42,-1.0, -39,-0.1, -35.8,0.84, -32.5,1.9, -29.6,2.94, -26.5,4.1, -23.4,5.2, -21,6.0, -18.7,6.7, -15.6,7.0, -13,6.95, -10.9,6.7, -8.5,6.2, -6.2,5.5, -3,4.4, 0,3.2, 3,2.1, 6.2,0.97, 9.5,0.2, 12.5,-0.43, 15.5,-0.8, 18.7,-0.99, 21,-1.0, 23.4,-0.85, 25.8,-0.4, 28,0.13, 31,1.0, 34.3,2.1, 38,3.1, 42,4.06, 46,4.8, 49.8,5.3, 53,5.7, 56,5.9, 58,5.85, 59.2,5.6, 60.2,4.8, 60.4,3.8, 60.5,2.4, 60.4,1.0, 60,-0.1, 59.2,-1.0, 57.8,-1.6, 56,-1.9, 53.8,-1.95, 51.4,-1.8, 49,-1.5, 46.7,-1.0, 43.5,0.0, 40.5,0.97, 37.5,2.1, 34.3,3.2, 31,4.2, 28,5.2, 25,6.0, 21.8,6.6, 18.7,6.9, 16,6.85, 14,6.6, 11.5,6.0, 9.3,5.2, 7,4.6, 4.6,4.2, 2.3,3.7, 0,3.2, -2.5,2.5, -5,1.7, -7.8,0.7, -11,-0.2, -14,-1.0, -16.5,-1.6, -18.7,-1.8, -21,-1.75, -23.4,-1.55, -26.5,-1.0, -29.6,-0.43, -32.5,0.5, -35.8,1.5, -39.5,2.6, -43.6,3.8, -47.5,4.7, -51.4,5.5, -54,6.0, -56.1,6.45, -58,6.8, -59.9,6.9];
const jGrey1 = [-59.5,7.3, -60,5.6, -60,3.5, -59.5,1.8, -58.7,0.0, -57.5,-1.2, -55.5,-2.3, -53,-2.8, -50.5,-2.8, -47.5,-2.4, -44.5,-1.6, -41,-0.4, -37,1.0, -33,2.5, -29,3.9, -25,5.3, -21,6.5, -17.5,7.2, -14,7.2, -11,6.8, -8,6.0, -4.5,4.8, -1,3.5, 2.5,2.2, 6,1.0, 10,-0.1, 14,-0.8, 18,-1.2, 22,-1.1, 25,-0.6, 28.5,0.3, 32,1.5, 36,2.8, 40,3.9, 44,4.8, 48,5.5, 52,5.9, 55.5,6.2, 58,6.0, 59.5,5.4, 60.3,4.0, 60.4,2.0, 60,0.2, 59,-1.2, 57.5,-2.0, 55.5,-2.4, 53,-2.4, 50.5,-2.0, 48,-1.3, 45,-0.3, 42,0.7, 38.5,1.9, 35,3.2, 31.5,4.4, 28,5.6, 24.5,6.6, 21,7.2, 18,7.4, 15,7.2, 12.5,6.7, 10,5.9, 7,4.9, 4,4.0, 1,3.0, -2,2.0, -5,1.0, -8.5,-0.1, -12,-1.1, -15.5,-1.8, -18.5,-2.0, -21.5,-1.8, -24.5,-1.3, -27.5,-0.5, -31,0.6, -34.5,1.7, -38,2.8, -42,4.0, -46,5.0, -50,5.9, -53.5,6.6, -56.5,7.1, -59.5,7.3];
const jGrey2 = [-59.5,6.4, -60,5.0, -59.8,3.0, -59.3,1.2, -58.4,-0.4, -57,-1.4, -55,-2.0, -52.5,-2.2, -50,-2.1, -47,-1.6, -44,-0.8, -40.5,0.3, -36.5,1.6, -32.5,3.0, -28.5,4.3, -24.5,5.5, -20.5,6.2, -17,6.4, -14,6.3, -11,5.9, -8,5.2, -4.5,4.2, -1,3.1, 2.5,2.0, 6,0.9, 10,-0.1, 14,-0.7, 18,-1.0, 22,-0.9, 25,-0.5, 28.5,0.4, 32,1.5, 36,2.7, 40,3.7, 44,4.5, 48,5.1, 52,5.4, 55.5,5.6, 58,5.5, 59.5,5.0, 60.2,3.8, 60.3,2.0, 59.9,0.3, 59,-0.9, 57.5,-1.6, 55.5,-1.9, 53,-1.8, 50.5,-1.4, 48,-0.8, 45,0.1, 42,1.0, 38.5,2.1, 35,3.3, 31.5,4.4, 28,5.5, 24.5,6.3, 21,6.8, 18,6.9, 15,6.7, 12.5,6.2, 10,5.4, 7,4.5, 4,3.7, 1,2.9, -2,2.0, -5,1.2, -8.5,0.2, -12,-0.5, -15.5,-0.9, -18.5,-0.9, -21.5,-0.7, -24.5,-0.3, -27.5,0.4, -31,1.3, -34.5,2.2, -38,3.2, -42,4.2, -46,5.0, -50,5.6, -53.5,6.0, -56.5,6.3, -59.5,6.4];
const jGrey3 = [-59.5,7.1, -60,5.5, -59.9,3.4, -59.4,1.6, -58.6,-0.1, -57.3,-1.3, -55.4,-2.2, -53,-2.7, -50.5,-2.7, -47.5,-2.3, -44.5,-1.5, -41,-0.3, -37,1.1, -33,2.5, -29,3.9, -25,5.2, -21,6.3, -17.5,6.9, -14,6.9, -11,6.5, -8,5.8, -4.5,4.6, -1,3.4, 2.5,2.1, 6,0.9, 10,-0.2, 14,-0.9, 18,-1.3, 22,-1.2, 25,-0.7, 28.5,0.2, 32,1.4, 36,2.7, 40,3.8, 44,4.7, 48,5.3, 52,5.7, 55.5,5.9, 58,5.8, 59.5,5.3, 60.3,4.0, 60.4,2.0, 60,0.0, 59,-1.3, 57.5,-2.1, 55.5,-2.4, 53,-2.3, 50.5,-1.9, 48,-1.2, 45,-0.2, 42,0.8, 38.5,2.0, 35,3.2, 31.5,4.4, 28,5.5, 24.5,6.4, 21,6.9, 18,7.0, 15,6.8, 12.5,6.3, 10,5.5, 7,4.6, 4,3.8, 1,2.9, -2,2.0, -5,1.0, -8.5,-0.1, -12,-1.0, -15.5,-1.7, -18.5,-2.0, -21.5,-1.9, -24.5,-1.4, -27.5,-0.6, -31,0.4, -34.5,1.5, -38,2.7, -42,3.9, -46,4.9, -50,5.8, -53.5,6.4, -56.5,6.9, -59.5,7.1];

const panelLabels = ['(a)', '(b)', '(c)', '(d)', '(e)', '(f)', '(g)', '(h)', '(i)', '(j)'];
const freqLabels = ['2.4', '2.6', '2.8', '3.0', '3.2', '3.4', '3.6', '3.8', '4.0', '4.2'];
const blackSeries = [aBlack, bBlack, cBlack, dBlack, eBlack, fBlack, gBlack, hBlack, iBlack, jBlack];
const greySeries = [
  [aGrey1, aGrey2, aGrey3, aGrey4], [bGrey1, bGrey2, bGrey3, bGrey4], [cGrey1, cGrey2, cGrey3, cGrey4],
  [dGrey1, dGrey2, dGrey3, dGrey4], [eGrey1, eGrey2, eGrey3], [fGrey1, fGrey2, fGrey3],
  [gGrey1, gGrey2, gGrey3], [hGrey1, hGrey2, hGrey3], [iGrey1, iGrey2, iGrey3], [jGrey1, jGrey2, jGrey3]
];

// layout: plot box (left, top, right, bottom) in page pixels, and where the (a)..(j) tag sits
const plotBoxes = [
  [99, 27, 485, 262], [104, 324, 491, 562], [103, 638, 490, 875], [99, 950, 485, 1187], [97, 1278, 480, 1507],
  [626, 28, 1011, 266], [637, 332, 1022, 569], [637, 642, 1022, 879], [638, 956, 1022, 1194], [637, 1277, 1023, 1514]
];
const tagSpots = [[12, 8], [12, 309], [13, 628], [12, 936], [12, 1268], [548, 8], [545, 311], [543, 631], [548, 938], [548, 1271]];
const greyColors = ['#bdbdbd', '#bdbdbd', '#bdbdbd', '#8f8f8f', '#8f8f8f', '#8c8c8c', '#8c8c8c', '#8c8c8c', '#8c8c8c', '#8c8c8c'];

const GRID = '#bebebe';
const AXIS = '#878787';
const SERIF = '"DejaVu Serif", serif';

const toPoints = flat => {
  const pts = [];
  for (let i = 0; i < flat.length; i += 2) pts.push({ x: flat[i], y: flat[i + 1] });
  return pts;
};

// symbol in italic followed by plain text, centred on cx
function drawMixed(ctx, sym, rest, cx, y) {
  ctx.font = 'italic 19px ' + SERIF;
  const w1 = ctx.measureText(sym).width;
  ctx.font = '19px ' + SERIF;
  const w2 = ctx.measureText(rest).width;
  const x = cx - (w1 + w2) / 2;
  ctx.font = 'italic 19px ' + SERIF;
  ctx.fillText(sym, x, y);
  ctx.font = '19px ' + SERIF;
  ctx.fillText(rest, x + w1, y);
}

const textPlugin = {
  id: 'panelText',
  afterDraw(chart, args, opts) {
    const { ctx, chartArea: a } = chart;
    ctx.save();
    ctx.fillStyle = '#1e1e1e';
    ctx.textAlign = 'left';
    ctx.textBaseline = 'alphabetic';

    // "2.4 f_phi" tag in the top right corner
    const reg = '20px ' + SERIF, ital = 'italic 20px ' + SERIF, sub = 'italic 13px ' + SERIF;
    ctx.font = reg; const w1 = ctx.measureText(opts.freq + ' ').width;
    ctx.font = ital; const w2 = ctx.measureText('f').width + 1;
    ctx.font = sub; const w3 = ctx.measureText('φ').width;
    let x = a.right - 6 - (w1 + w2 + w3);
    const y = a.top + 40;
    ctx.font = reg; ctx.fillText(opts.freq + ' ', x, y); x += w1;
    ctx.font = ital; ctx.fillText('f', x, y); x += w2;
    ctx.font = sub; ctx.fillText('φ', x, y + 5);

    // axis titles
    drawMixed(ctx, 'φ', ' (deg)', (a.left + a.right) / 2, a.bottom + 22);
    ctx.translate(a.left - 54, (a.top + a.bottom) / 2);
    ctx.rotate(-Math.PI / 2);
    drawMixed(ctx, 'χ', ' (deg)', 0, 0);
    ctx.restore();
  }
};

Chart.defaults.font.family = SERIF;
Chart.defaults.font.size = 18;
Chart.defaults.color = '#1a1a1a';

const page = document.getElementById('page');

panelLabels.forEach((label, i) => {
  const [L, T, R, B] = plotBoxes[i];
  const colX = L < 520 ? 0 : 520;

  const canvas = document.createElement('canvas');
  canvas.width = 519;
  canvas.height = B - T + 62;
  canvas.style.left = colX + 'px';
  canvas.style.top = (T - 22) + 'px';
  page.appendChild(canvas);

  const tag = document.createElement('div');
  tag.className = 'tag';
  tag.textContent = label;
  tag.style.left = tagSpots[i][0] + 'px';
  tag.style.top = tagSpots[i][1] + 'px';
  page.appendChild(tag);

  const datasets = [{
    data: toPoints(blackSeries[i]),
    borderColor: '#1b1b1b',
    borderWidth: 3.2,
    order: 0
  }].concat(greySeries[i].map(g => ({
    data: toPoints(g),
    borderColor: greyColors[i],
    borderWidth: 2.6,
    order: 1
  })));
  datasets.forEach(d => { d.showLine = true; d.pointRadius = 0; d.tension = 0.35; d.fill = false; });

  new Chart(canvas, {
    type: 'scatter',
    data: { datasets },
    options: {
      responsive: false,
      animation: false,
      events: [],
      layout: { padding: { left: L - colX - 60, right: colX + 519 - R, top: 22, bottom: 40 } },
      scales: {
        x: {
          type: 'linear',
          min: -90, max: 90,
          position: { y: 0 },
          ticks: { stepSize: 30, padding: 20, maxRotation: 0, autoSkip: false },
          grid: { color: GRID, drawTicks: false },
          border: { color: AXIS }
        },
        y: {
          type: 'linear',
          min: -5, max: 15,
          ticks: { stepSize: 5, padding: 15 },
          grid: { color: ctx => (ctx.tick && ctx.tick.value === 0) ? AXIS : GRID, tickLength: 7 },
          border: { color: AXIS },
          afterFit: scale => { scale.width = 60; }
        }
      },
      plugins: {
        legend: { display: false },
        tooltip: { enabled: false },
        panelText: { freq: freqLabels[i] }
      }
    },
    plugins: [textPlugin]
  });
});
</script>
</body>
</html>
